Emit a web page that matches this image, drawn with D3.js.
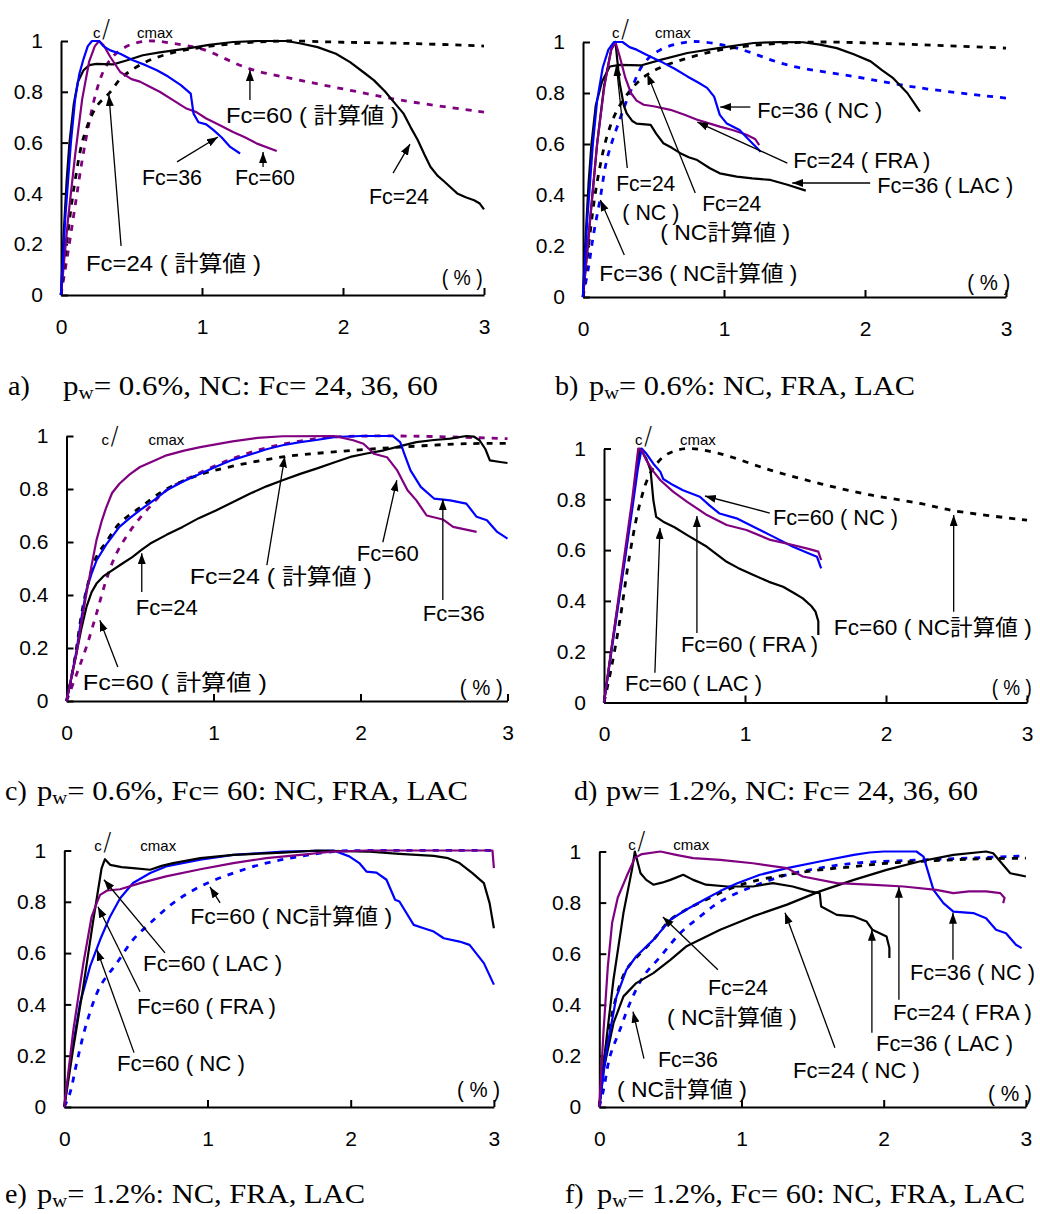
<!DOCTYPE html>
<html>
<head>
<meta charset="utf-8">
<script src="https://cdn.jsdelivr.net/npm/d3@7"></script>
<style>
  body { margin: 0; background: #fff; }
  svg { display: block; }
</style>
</head>
<body>
<svg id="chart" width="1040" height="1214"></svg>
<script>
// tick values shared by all six panels
const xTicks = [0, 1, 2, 3];
const yTicks = [0, 0.2, 0.4, 0.6, 0.8, 1];

// a) pw=0.6%, NC
const aNC24 = [[0,0],[0.02,0.25],[0.04,0.45],[0.06,0.6],[0.09,0.75],[0.12,0.84],[0.16,0.885],[0.2,0.905],[0.25,0.91],[0.37,0.908],[0.47,0.924],[0.58,0.944],[0.7,0.955],[0.89,0.97],[1.05,0.985],[1.22,0.996],[1.4,1.0],[1.6,1.0],[1.7,0.99],[1.82,0.976],[1.95,0.95],[2.05,0.917],[2.15,0.875],[2.22,0.845],[2.3,0.8],[2.34,0.773],[2.43,0.714],[2.48,0.66],[2.53,0.61],[2.58,0.55],[2.62,0.505],[2.67,0.47],[2.72,0.446],[2.77,0.42],[2.81,0.4],[2.87,0.385],[2.93,0.373],[2.97,0.36],[3.0,0.337]];
const aCalc24 = [[0,0],[0.05,0.25],[0.1,0.45],[0.16,0.62],[0.25,0.74],[0.35,0.8],[0.42,0.85],[0.5,0.885],[0.63,0.925],[0.8,0.955],[1.0,0.975],[1.3,0.993],[1.6,1.0],[2.0,0.995],[2.5,0.99],[3.0,0.98]];
const aNC36 = [[0,0],[0.03,0.3],[0.07,0.6],[0.1,0.77],[0.13,0.87],[0.16,0.93],[0.19,0.98],[0.22,1.0],[0.27,1.0],[0.3,0.98],[0.35,0.963],[0.42,0.95],[0.51,0.924],[0.6,0.905],[0.68,0.885],[0.76,0.86],[0.85,0.826],[0.92,0.793],[0.94,0.714],[0.975,0.68],[1.03,0.672],[1.08,0.65],[1.14,0.62],[1.2,0.583],[1.27,0.557]];
const aNC60 = [[0,0],[0.05,0.3],[0.1,0.55],[0.15,0.77],[0.2,0.92],[0.24,0.98],[0.27,1.0],[0.3,0.985],[0.35,0.937],[0.42,0.878],[0.5,0.85],[0.56,0.84],[0.63,0.82],[0.7,0.8],[0.8,0.765],[0.89,0.734],[0.96,0.72],[1.03,0.695],[1.12,0.67],[1.22,0.642],[1.3,0.622],[1.39,0.596],[1.53,0.567]];
const aCalc60 = [[0,0],[0.05,0.17],[0.1,0.35],[0.15,0.53],[0.2,0.68],[0.25,0.8],[0.3,0.88],[0.37,0.94],[0.47,0.98],[0.58,0.998],[0.66,1.0],[0.8,0.99],[1.0,0.968],[1.34,0.89],[1.7,0.845],[2.05,0.806],[2.41,0.767],[3.0,0.72]];

// b) pw=0.6%: NC, FRA, LAC
const bNC24 = [[0,0],[0.02,0.25],[0.04,0.45],[0.06,0.6],[0.09,0.75],[0.135,0.845],[0.19,0.904],[0.26,0.91],[0.41,0.908],[0.55,0.93],[0.74,0.957],[0.97,0.977],[1.21,0.996],[1.4,1.0],[1.56,0.999],[1.68,0.99],[1.8,0.976],[1.92,0.952],[2.04,0.924],[2.12,0.89],[2.2,0.858],[2.3,0.8],[2.39,0.727]];
const bCalc24 = [[0,0],[0.05,0.25],[0.1,0.45],[0.17,0.63],[0.24,0.73],[0.35,0.82],[0.45,0.87],[0.55,0.9],[0.7,0.93],[0.9,0.96],[1.1,0.98],[1.4,0.995],[1.7,1.0],[2.2,0.993],[2.6,0.985],[3.0,0.976]];
const bNC36 = [[0,0],[0.03,0.3],[0.07,0.6],[0.1,0.77],[0.14,0.9],[0.18,0.97],[0.22,1.0],[0.28,1.0],[0.33,0.98],[0.38,0.97],[0.45,0.95],[0.55,0.924],[0.65,0.895],[0.74,0.865],[0.82,0.84],[0.88,0.82],[0.93,0.786],[0.97,0.714],[1.02,0.68],[1.11,0.655],[1.18,0.615],[1.26,0.57]];
const bCalc36 = [[0,0],[0.04,0.12],[0.076,0.25],[0.12,0.38],[0.17,0.54],[0.26,0.695],[0.34,0.81],[0.43,0.915],[0.55,0.97],[0.74,1.0],[0.85,1.0],[1.09,0.976],[1.45,0.91],[1.92,0.865],[2.39,0.82],[3.0,0.78]];
const bFRA24 = [[0,0],[0.05,0.3],[0.1,0.6],[0.15,0.82],[0.2,0.97],[0.23,1.0],[0.26,0.944],[0.3,0.86],[0.34,0.8],[0.38,0.77],[0.43,0.754],[0.5,0.748],[0.62,0.734],[0.72,0.715],[0.81,0.695],[0.9,0.68],[0.97,0.668],[1.06,0.655],[1.16,0.636],[1.22,0.62],[1.25,0.596]];
const bLAC36 = [[0,0],[0.05,0.3],[0.1,0.6],[0.15,0.83],[0.2,0.97],[0.23,1.0],[0.26,0.839],[0.29,0.75],[0.31,0.72],[0.35,0.69],[0.38,0.68],[0.48,0.675],[0.52,0.64],[0.57,0.603],[0.63,0.585],[0.69,0.564],[0.75,0.548],[0.81,0.537],[0.9,0.505],[0.97,0.485],[1.09,0.472],[1.2,0.465],[1.33,0.459],[1.45,0.44],[1.58,0.417]];

// c) pw=0.6%, Fc=24/36/60
const cFc60 = [[0,0],[0.03,0.08],[0.068,0.18],[0.1,0.29],[0.136,0.406],[0.17,0.51],[0.204,0.607],[0.24,0.68],[0.27,0.73],[0.31,0.785],[0.36,0.82],[0.43,0.855],[0.5,0.883],[0.6,0.908],[0.68,0.927],[0.8,0.945],[0.91,0.958],[1.13,0.98],[1.3,0.993],[1.47,0.999],[1.82,1.0],[1.95,0.984],[2.02,0.971],[2.06,0.95],[2.09,0.933],[2.18,0.92],[2.25,0.87],[2.32,0.795],[2.38,0.757],[2.45,0.7],[2.56,0.685],[2.63,0.657],[2.79,0.638]];
const cFc36 = [[0,0],[0.03,0.08],[0.068,0.19],[0.1,0.31],[0.136,0.42],[0.17,0.48],[0.204,0.53],[0.27,0.59],[0.36,0.657],[0.43,0.69],[0.5,0.72],[0.6,0.76],[0.68,0.795],[0.8,0.83],[0.91,0.858],[1.02,0.885],[1.13,0.91],[1.25,0.93],[1.36,0.95],[1.47,0.965],[1.59,0.977],[1.7,0.985],[1.82,0.996],[2.0,1.0],[2.22,1.0],[2.27,0.977],[2.3,0.93],[2.34,0.87],[2.41,0.808],[2.5,0.764],[2.61,0.757],[2.72,0.745],[2.79,0.695],[2.86,0.682],[2.93,0.638],[3.0,0.613]];
const cCalc24 = [[0,0],[0.034,0.09],[0.068,0.2],[0.1,0.32],[0.136,0.42],[0.2,0.54],[0.27,0.6],[0.36,0.67],[0.5,0.73],[0.68,0.8],[0.91,0.855],[1.13,0.886],[1.47,0.921],[1.82,0.94],[2.27,0.958],[2.72,0.971],[3.0,0.972]];
const cCalc60 = [[0,0],[0.068,0.1],[0.136,0.205],[0.204,0.33],[0.27,0.456],[0.34,0.557],[0.45,0.655],[0.57,0.735],[0.68,0.795],[0.91,0.862],[1.13,0.915],[1.36,0.955],[1.6,0.982],[1.82,0.996],[2.27,1.0],[3.0,0.99]];
const cFc24 = [[0,0],[0.034,0.09],[0.068,0.18],[0.1,0.27],[0.136,0.355],[0.17,0.41],[0.204,0.443],[0.25,0.47],[0.295,0.487],[0.37,0.515],[0.45,0.544],[0.51,0.57],[0.57,0.594],[0.68,0.627],[0.79,0.657],[0.9,0.69],[1.02,0.72],[1.13,0.75],[1.25,0.783],[1.36,0.81],[1.47,0.833],[1.59,0.857],[1.7,0.877],[1.82,0.9],[1.93,0.921],[2.05,0.935],[2.16,0.946],[2.27,0.962],[2.38,0.977],[2.5,0.985],[2.61,0.99],[2.72,1.0],[2.77,0.998],[2.81,0.984],[2.85,0.95],[2.88,0.908],[2.95,0.902],[3.0,0.898]];

// d) pw=1.2%, Fc=60: NC, FRA, LAC
const dNC60 = [[0,0],[0.05,0.19],[0.1,0.38],[0.15,0.57],[0.2,0.76],[0.24,0.92],[0.267,1.0],[0.3,0.98],[0.35,0.94],[0.4,0.908],[0.42,0.88],[0.49,0.856],[0.56,0.836],[0.68,0.81],[0.75,0.775],[0.82,0.744],[0.94,0.725],[1.06,0.692],[1.2,0.653],[1.34,0.613],[1.45,0.588],[1.51,0.574],[1.54,0.528]];
const dFRA60 = [[0,0],[0.05,0.2],[0.1,0.4],[0.15,0.6],[0.2,0.8],[0.243,1.0],[0.27,0.99],[0.3,0.954],[0.35,0.91],[0.4,0.875],[0.49,0.83],[0.59,0.79],[0.73,0.738],[0.87,0.699],[1.01,0.679],[1.18,0.64],[1.34,0.62],[1.45,0.605],[1.52,0.594],[1.54,0.561]];
const dLAC60 = [[0,0],[0.05,0.2],[0.1,0.39],[0.15,0.58],[0.2,0.78],[0.24,0.95],[0.255,1.0],[0.3,0.96],[0.33,0.915],[0.35,0.797],[0.37,0.731],[0.42,0.712],[0.5,0.69],[0.59,0.659],[0.73,0.613],[0.87,0.554],[0.95,0.53],[1.06,0.502],[1.17,0.475],[1.27,0.456],[1.35,0.43],[1.41,0.41],[1.47,0.38],[1.5,0.358],[1.52,0.32],[1.52,0.266]];
const dCalc60 = [[0,0],[0.05,0.13],[0.113,0.325],[0.184,0.587],[0.255,0.784],[0.326,0.9],[0.42,0.967],[0.5,0.99],[0.6,1.0],[0.82,0.98],[1.18,0.915],[1.53,0.862],[1.89,0.817],[2.24,0.784],[2.48,0.755],[3.0,0.718]];

// e) pw=1.2%: NC, FRA, LAC
const eLAC60 = [[0,0],[0.06,0.22],[0.133,0.47],[0.2,0.72],[0.26,0.93],[0.284,0.966],[0.32,0.944],[0.4,0.935],[0.48,0.931],[0.6,0.925],[0.68,0.94],[0.76,0.951],[0.95,0.97],[1.18,0.983],[1.53,0.992],[1.76,1.0],[2.11,0.996],[2.34,0.987],[2.58,0.979],[2.68,0.97],[2.76,0.951],[2.85,0.912],[2.93,0.873],[2.97,0.795],[3.0,0.697]];
const eFRA60 = [[0,0],[0.063,0.3],[0.133,0.56],[0.19,0.74],[0.226,0.795],[0.25,0.827],[0.3,0.844],[0.39,0.849],[0.53,0.873],[0.71,0.899],[0.95,0.927],[1.18,0.951],[1.41,0.97],[1.65,0.983],[1.88,0.996],[2.11,1.0],[2.99,1.0],[3.0,0.931]];
const eNC60 = [[0,0],[0.04,0.17],[0.11,0.405],[0.18,0.548],[0.25,0.652],[0.32,0.743],[0.39,0.814],[0.48,0.873],[0.6,0.912],[0.71,0.938],[0.95,0.964],[1.18,0.983],[1.53,0.996],[1.88,1.0],[1.99,0.977],[2.06,0.951],[2.11,0.918],[2.18,0.914],[2.25,0.886],[2.31,0.808],[2.34,0.801],[2.44,0.71],[2.51,0.697],[2.58,0.684],[2.65,0.658],[2.76,0.645],[2.83,0.632],[2.93,0.561],[3.0,0.477]];
const eCalc60 = [[0,0],[0.04,0.055],[0.086,0.17],[0.156,0.327],[0.25,0.47],[0.365,0.56],[0.48,0.652],[0.6,0.717],[0.76,0.795],[0.95,0.86],[1.18,0.912],[1.41,0.951],[1.65,0.977],[1.88,0.996],[2.11,1.0],[3.0,1.0]];

// f) pw=1.2%, Fc=24/36
const fFRA24 = [[0,0],[0.03,0.3],[0.06,0.55],[0.09,0.72],[0.13,0.82],[0.19,0.9],[0.25,0.975],[0.3,0.99],[0.43,1.0],[0.54,0.987],[0.66,0.974],[0.85,0.967],[1.08,0.954],[1.32,0.935],[1.43,0.902],[1.67,0.876],[1.9,0.87],[2.14,0.863],[2.37,0.85],[2.49,0.837],[2.6,0.844],[2.72,0.844],[2.82,0.837],[2.85,0.818],[2.84,0.798]];
const fLAC36 = [[0,0],[0.03,0.17],[0.1,0.5],[0.17,0.76],[0.23,0.93],[0.25,1.0],[0.29,0.915],[0.33,0.889],[0.38,0.87],[0.44,0.878],[0.5,0.889],[0.59,0.909],[0.66,0.889],[0.75,0.87],[0.9,0.863],[1.08,0.863],[1.22,0.876],[1.36,0.863],[1.48,0.844],[1.55,0.837],[1.56,0.785],[1.67,0.752],[1.79,0.746],[1.88,0.726],[1.92,0.694],[2.02,0.667],[2.04,0.622],[2.04,0.583]];
const fCalc24 = [[0,0],[0.05,0.237],[0.12,0.433],[0.19,0.537],[0.29,0.602],[0.38,0.654],[0.5,0.733],[0.61,0.772],[0.75,0.811],[0.9,0.85],[1.08,0.883],[1.32,0.909],[1.55,0.928],[1.79,0.941],[2.02,0.954],[2.25,0.961],[2.6,0.97],[3.0,0.974]];
const fNC36 = [[0,0],[0.05,0.22],[0.12,0.43],[0.19,0.537],[0.26,0.59],[0.38,0.654],[0.5,0.733],[0.61,0.772],[0.75,0.815],[0.85,0.845],[0.97,0.876],[1.13,0.909],[1.32,0.935],[1.55,0.961],[1.79,0.987],[1.9,0.996],[2.0,1.0],[2.23,1.0],[2.28,0.98],[2.35,0.85],[2.42,0.798],[2.49,0.765],[2.63,0.759],[2.72,0.739],[2.79,0.694],[2.86,0.68],[2.93,0.635],[2.97,0.622]];
const fCalc36 = [[0,0],[0.03,0.068],[0.075,0.198],[0.145,0.302],[0.216,0.407],[0.31,0.511],[0.43,0.589],[0.57,0.681],[0.71,0.746],[0.85,0.804],[1.08,0.863],[1.32,0.909],[1.55,0.935],[1.79,0.954],[2.25,0.967],[2.6,0.974],[3.0,0.983]];
const fNC24 = [[0,0],[0.03,0.146],[0.1,0.329],[0.17,0.433],[0.26,0.485],[0.38,0.524],[0.5,0.576],[0.61,0.628],[0.85,0.694],[1.08,0.746],[1.32,0.792],[1.55,0.844],[1.79,0.889],[2.02,0.928],[2.25,0.961],[2.49,0.987],[2.72,1.0],[2.77,0.993],[2.89,0.915],[3.0,0.902]];

const BLACK = '#000', BLUE = '#0000ff', PURPLE = '#800080';

// layout of each panel: origin pixel, pixel length of one unit in x / y
const panels = [
  { left: 61, bottom: 295, xw: 141, yh: 254, sig: [32, 76, -3],
    series: [
      { d: aCalc60, c: PURPLE, dash: true }, { d: aCalc24, c: BLACK, dash: true },
      { d: aNC24, c: BLACK }, { d: aNC60, c: PURPLE }, { d: aNC36, c: BLUE }
    ],
    notes: [
      { t: 'Fc=60 ( 計算値 )', w: 173, x: 1.17, y: 0.709, from: [1.34, 0.768], to: [1.34, 0.886] },
      { t: 'Fc=36', w: 60, x: 0.574, y: 0.465, from: [0.823, 0.524], to: [1.113, 0.622] },
      { t: 'Fc=60', w: 60, x: 1.234, y: 0.465, from: [1.433, 0.504], to: [1.433, 0.563] },
      { t: 'Fc=24', w: 60, x: 2.184, y: 0.39, from: [2.355, 0.48], to: [2.475, 0.594] },
      { t: 'Fc=24 ( 計算値 )', w: 175, x: 0.177, y: 0.126, from: [0.426, 0.193], to: [0.34, 0.787] },
      { t: '( % )', w: 41, x: 2.70, y: 0.071 }
    ],
    cap: { x: 8, y: 395, w: 430, pre: 'a)', gap: 31, pw: '0.6%, NC: Fc= 24, 36, 60', sub: true } },
  { left: 583, bottom: 297, xw: 141, yh: 255, sig: [29, 72, -4],
    series: [
      { d: bCalc36, c: BLUE, dash: true }, { d: bCalc24, c: BLACK, dash: true },
      { d: bNC24, c: BLACK }, { d: bLAC36, c: BLACK }, { d: bFRA24, c: PURPLE }, { d: bNC36, c: BLUE }
    ],
    notes: [
      { t: 'Fc=36 ( NC )', w: 125, x: 1.236, y: 0.733, from: [1.187, 0.745], to: [0.973, 0.745] },
      { t: 'Fc=24 ( FRA )', w: 137, x: 1.491, y: 0.537, from: [1.449, 0.525], to: [0.811, 0.686] },
      { t: 'Fc=36 ( LAC )', w: 136, x: 2.087, y: 0.439, from: [2.037, 0.447], to: [1.484, 0.447] },
      { t: 'Fc=24', w: 59, x: 0.236, y: 0.447, from: [0.314, 0.506], to: [0.236, 0.91] },
      { t: '( NC )', w: 57, x: 0.279, y: 0.333 },
      { t: 'Fc=24', w: 59, x: 0.846, y: 0.369, from: [0.796, 0.408], to: [0.456, 0.875] },
      { t: '( NC計算値 )', w: 130, x: 0.548, y: 0.255 },
      { t: 'Fc=36 ( NC計算値 )', w: 198, x: 0.116, y: 0.094, from: [0.293, 0.165], to: [0.123, 0.38] },
      { t: '( % )', w: 43, x: 2.725, y: 0.059 }
    ],
    cap: { x: 555, y: 395, w: 360, pre: 'b)', gap: 10, pw: '0.6%: NC, FRA, LAC', sub: true } },
  { left: 66.5, bottom: 701, xw: 147, yh: 265, sig: [35, 82, 9],
    series: [
      { d: cCalc60, c: PURPLE, dash: true }, { d: cCalc24, c: BLACK, dash: true },
      { d: cFc24, c: BLACK }, { d: cFc36, c: BLUE }, { d: cFc60, c: PURPLE }
    ],
    notes: [
      { t: 'Fc=24', w: 62, x: 0.471, y: 0.354, from: [0.512, 0.411], to: [0.512, 0.558] },
      { t: 'Fc=24 ( 計算値 )', w: 182, x: 0.839, y: 0.471, from: [1.363, 0.513], to: [1.485, 0.923] },
      { t: 'Fc=60', w: 62, x: 1.975, y: 0.558, from: [2.152, 0.599], to: [2.247, 0.833] },
      { t: 'Fc=36', w: 62, x: 2.424, y: 0.332, from: [2.56, 0.381], to: [2.56, 0.761] },
      { t: 'Fc=60 ( 計算値 )', w: 184, x: 0.111, y: 0.072, from: [0.349, 0.128], to: [0.227, 0.305] },
      { t: '( % )', w: 43, x: 2.676, y: 0.053 }
    ],
    cap: { x: 5, y: 800, w: 463, pre: 'c)', gap: 8, pw: '0.6%, Fc= 60: NC, FRA, LAC', sub: true } },
  { left: 604, bottom: 702.5, xw: 141, yh: 254, sig: [31, 76, -4],
    series: [
      { d: dCalc60, c: BLACK, dash: true },
      { d: dLAC60, c: BLACK }, { d: dNC60, c: BLUE }, { d: dFRA60, c: PURPLE }
    ],
    notes: [
      { t: 'Fc=60 ( NC )', w: 125, x: 1.198, y: 0.73, from: [1.176, 0.746], to: [0.716, 0.813] },
      { t: 'Fc=60 ( FRA )', w: 137, x: 0.546, y: 0.231, from: [0.659, 0.274], to: [0.659, 0.734] },
      { t: 'Fc=60 ( LAC )', w: 137, x: 0.149, y: 0.077, from: [0.361, 0.117], to: [0.397, 0.687] },
      { t: 'Fc=60 ( NC計算値 )', w: 198, x: 1.63, y: 0.298, from: [2.48, 0.357], to: [2.48, 0.738] },
      { t: '( % )', w: 40, x: 2.75, y: 0.062 }
    ],
    cap: { x: 574, y: 800, w: 404, pre: 'd)', gap: 8, pw: '1.2%, NC: Fc= 24, 36, 60', sub: false } },
  { left: 64.3, bottom: 1107, xw: 143.2, yh: 256.5, sig: [30, 76, 0],
    series: [
      { d: eCalc60, c: BLUE, dash: true },
      { d: eNC60, c: BLUE }, { d: eLAC60, c: BLACK }, { d: eFRA60, c: PURPLE }
    ],
    notes: [
      { t: 'Fc=60 ( NC計算値 )', w: 202, x: 0.879, y: 0.745, from: [1.088, 0.796], to: [1.017, 0.858] },
      { t: 'Fc=60 ( LAC )', w: 139, x: 0.55, y: 0.562, from: [0.703, 0.601], to: [0.277, 0.886] },
      { t: 'Fc=60 ( FRA )', w: 139, x: 0.508, y: 0.395, from: [0.529, 0.449], to: [0.235, 0.781] },
      { t: 'Fc=60 ( NC )', w: 128, x: 0.368, y: 0.173, from: [0.487, 0.212], to: [0.228, 0.613] },
      { t: '( % )', w: 43, x: 2.742, y: 0.071 }
    ],
    cap: { x: 5, y: 1203, w: 360, pre: 'e)', gap: 8, pw: '1.2%: NC, FRA, LAC', sub: true } },
  { left: 599.3, bottom: 1107, xw: 142.2, yh: 255.5, sig: [29, 74, -2],
    series: [
      { d: fCalc36, c: BLUE, dash: true }, { d: fCalc24, c: BLACK, dash: true },
      { d: fNC24, c: BLACK }, { d: fLAC36, c: BLACK }, { d: fNC36, c: BLUE }, { d: fFRA24, c: PURPLE }
    ],
    notes: [
      { t: 'Fc=24', w: 60, x: 0.764, y: 0.47, from: [0.834, 0.537], to: [0.447, 0.744] },
      { t: '( NC計算値 )', w: 130, x: 0.476, y: 0.353 },
      { t: 'Fc=36', w: 60, x: 0.413, y: 0.189, from: [0.314, 0.189], to: [0.237, 0.373] },
      { t: '( NC計算値 )', w: 130, x: 0.124, y: 0.072 },
      { t: 'Fc=24 ( NC )', w: 127, x: 1.362, y: 0.146, from: [1.657, 0.232], to: [1.306, 0.76] },
      { t: 'Fc=36 ( LAC )', w: 137, x: 1.946, y: 0.252, from: [1.917, 0.291], to: [1.917, 0.694] },
      { t: 'Fc=24 ( FRA )', w: 139, x: 2.065, y: 0.373, from: [2.107, 0.42], to: [2.107, 0.862] },
      { t: 'Fc=36 ( NC )', w: 125, x: 2.185, y: 0.529, from: [2.487, 0.576], to: [2.487, 0.76] },
      { t: '( % )', w: 44, x: 2.734, y: 0.056 }
    ],
    cap: { x: 565, y: 1203, w: 460, pre: 'f)', gap: 8, pw: '1.2%, Fc= 60: NC, FRA, LAC', sub: true } }
];

const svg = d3.select('#chart');
const sans = '"Liberation Sans", Arial, "Noto Sans CJK JP", sans-serif';
const serif = '"Liberation Serif", "DejaVu Serif", serif';

svg.append('defs').append('marker')
  .attr('id', 'arr')
  .attr('markerUnits', 'userSpaceOnUse')
  .attr('markerWidth', 12).attr('markerHeight', 10)
  .attr('refX', 11).attr('refY', 4)
  .attr('orient', 'auto')
  .append('path').attr('d', 'M0,0 L11,4 L0,8 Z').attr('fill', '#000');

panels.forEach(p => {
  const x = d3.scaleLinear().domain([0, 3]).range([p.left, p.left + 3 * p.xw]);
  const y = d3.scaleLinear().domain([0, 1]).range([p.bottom, p.bottom - p.yh]);
  const g = svg.append('g');

  // axes
  const ax = g.append('g').attr('transform', `translate(0,${p.bottom})`)
    .call(d3.axisBottom(x).tickValues(xTicks).tickSizeInner(-7).tickSizeOuter(0).tickPadding(24)
      .tickFormat(d3.format('d')));
  const ay = g.append('g').attr('transform', `translate(${p.left},0)`)
    .call(d3.axisLeft(y).tickValues(yTicks).tickSizeInner(-7).tickSizeOuter(0).tickPadding(18)
      .tickFormat(d => d === 0 || d === 1 ? d3.format('d')(d) : d3.format('.1f')(d)));
  [ax, ay].forEach(a => {
    a.select('.domain').attr('stroke', '#000').attr('stroke-width', 2);
    a.selectAll('.tick line').attr('stroke', '#000').attr('stroke-width', 2);
    a.selectAll('.tick text').attr('fill', '#000').attr('font-family', sans).attr('font-size', 21);
  });
  ax.selectAll('.tick text').attr('dy', '0.71em');

  // curves
  const line = d3.line().x(d => x(d[0])).y(d => y(d[1]));
  g.selectAll('.curve').data(p.series).enter().append('path')
    .attr('class', 'curve')
    .attr('d', s => line.curve(s.dash ? d3.curveCatmullRom : d3.curveLinear)(s.d))
    .attr('fill', 'none')
    .attr('stroke', s => s.c)
    .attr('stroke-width', s => s.dash ? 2.8 : 2.2)
    .attr('stroke-dasharray', s => s.dash ? '6,7' : null)
    .attr('stroke-linejoin', 'round');

  // σc/σcmax label (sigma glyphs missing in the source)
  const yTop = y(1) + p.sig[2];
  g.append('text').attr('x', p.left + p.sig[0]).attr('y', yTop)
    .attr('font-family', sans).attr('font-size', 15).text('c');
  g.append('text').attr('x', p.left + p.sig[0] + 9).attr('y', yTop - 1)
    .attr('font-family', '"DejaVu Sans", sans-serif').attr('font-size', 24)
    .attr('font-weight', 300).text('/');
  g.append('text').attr('x', p.left + p.sig[1]).attr('y', yTop)
    .attr('font-family', sans).attr('font-size', 15).text('cmax');

  // annotations
  p.notes.forEach(n => {
    g.append('text').attr('x', x(n.x)).attr('y', y(n.y)).attr('dy', '0.36em')
      .attr('font-family', sans).attr('font-size', 22).attr('fill', '#000')
      .attr('textLength', n.w).attr('lengthAdjust', 'spacingAndGlyphs')
      .text(n.t);
    if (n.from) {
      g.append('line')
        .attr('x1', x(n.from[0])).attr('y1', y(n.from[1]))
        .attr('x2', x(n.to[0])).attr('y2', y(n.to[1]))
        .attr('stroke', '#000').attr('stroke-width', 1.3)
        .attr('marker-end', 'url(#arr)');
    }
  });

  // caption
  const c = p.cap;
  g.append('text').attr('x', c.x).attr('y', c.y)
    .attr('font-family', serif).attr('font-size', 28).text(c.pre);
  const t = g.append('text').attr('x', c.x + 24 + c.gap).attr('y', c.y)
    .attr('font-family', serif).attr('font-size', 28)
    .attr('textLength', c.w - 24 - c.gap).attr('lengthAdjust', 'spacingAndGlyphs');
  t.append('tspan').text('p');
  if (c.sub) {
    t.append('tspan').attr('font-size', 19).attr('dy', 4).text('w');
    t.append('tspan').attr('dy', -4).text('= ' + c.pw);
  } else {
    t.append('tspan').text('w= ' + c.pw);
  }
});
</script>
</body>
</html>
